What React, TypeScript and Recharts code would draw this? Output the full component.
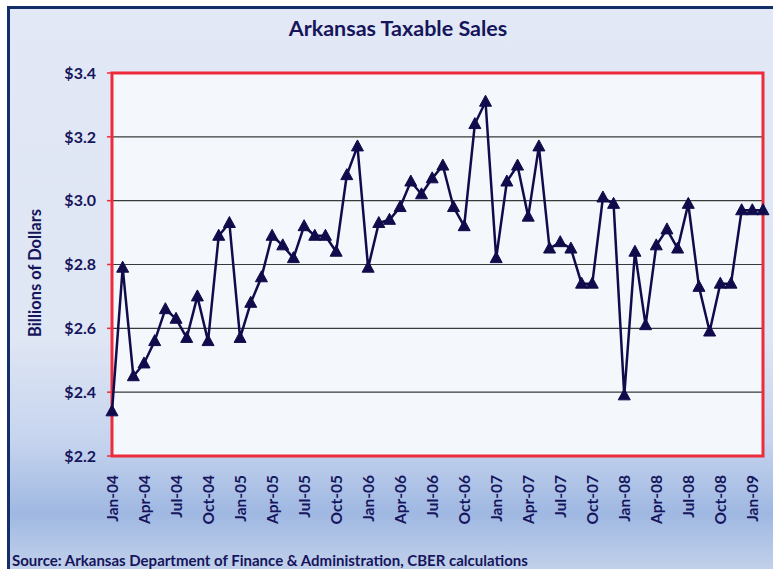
import { LineChart, Line, XAxis, YAxis, CartesianGrid, ReferenceArea } from "recharts";

const months = [
  "Jan-04", "Feb-04", "Mar-04", "Apr-04", "May-04", "Jun-04", "Jul-04", "Aug-04", "Sep-04", "Oct-04", "Nov-04", "Dec-04",
  "Jan-05", "Feb-05", "Mar-05", "Apr-05", "May-05", "Jun-05", "Jul-05", "Aug-05", "Sep-05", "Oct-05", "Nov-05", "Dec-05",
  "Jan-06", "Feb-06", "Mar-06", "Apr-06", "May-06", "Jun-06", "Jul-06", "Aug-06", "Sep-06", "Oct-06", "Nov-06", "Dec-06",
  "Jan-07", "Feb-07", "Mar-07", "Apr-07", "May-07", "Jun-07", "Jul-07", "Aug-07", "Sep-07", "Oct-07", "Nov-07", "Dec-07",
  "Jan-08", "Feb-08", "Mar-08", "Apr-08", "May-08", "Jun-08", "Jul-08", "Aug-08", "Sep-08", "Oct-08", "Nov-08", "Dec-08",
  "Jan-09", "Feb-09",
];

// billions of dollars
const sales = [
  2.34, 2.79, 2.45, 2.49, 2.56, 2.66, 2.63, 2.57, 2.70, 2.56, 2.89, 2.93,
  2.57, 2.68, 2.76, 2.89, 2.86, 2.82, 2.92, 2.89, 2.89, 2.84, 3.08, 3.17,
  2.79, 2.93, 2.94, 2.98, 3.06, 3.02, 3.07, 3.11, 2.98, 2.92, 3.24, 3.31,
  2.82, 3.06, 3.11, 2.95, 3.17, 2.85, 2.87, 2.85, 2.74, 2.74, 3.01, 2.99,
  2.39, 2.84, 2.61, 2.86, 2.91, 2.85, 2.99, 2.73, 2.59, 2.74, 2.74, 2.97,
  2.97, 2.97,
];

const yTicks = [2.2, 2.4, 2.6, 2.8, 3.0, 3.2, 3.4];

const data = months.map((m, i) => ({ month: m, value: sales[i] }));

const NAVY = "#16155c";
const LINE = "#100c4c";
const RED = "#ee2b3a";
const FONT = "Lato, 'Open Sans', sans-serif";

function Triangle(props: any) {
  const { cx, cy, index } = props;
  if (cx == null || cy == null) return <g key={index} />;
  return (
    <path
      key={index}
      d={`M${cx},${cy - 6.5} L${cx + 6},${cy + 4.5} L${cx - 6},${cy + 4.5} Z`}
      fill={LINE}
      stroke={LINE}
      strokeWidth={1}
    />
  );
}

function MonthTick(props: any) {
  const { x, y, payload } = props;
  return (
    <text
      x={x}
      y={y + 19}
      transform={`rotate(-90, ${x}, ${y + 19})`}
      textAnchor="end"
      dy="0.36em"
      fill={NAVY}
      fontSize={15.5}
      fontWeight={700}
      fontFamily={FONT}
    >
      {payload.value}
    </text>
  );
}

export default function App() {
  return (
    <div style={{ position: "absolute", left: 0, top: 0, width: 773, height: 569, overflow: "hidden", background: "#fff" }}>
      <div
        style={{
          position: "absolute",
          left: 7,
          top: 6,
          width: 800,
          height: 600,
          border: "3px solid #142d6b",
          background:
            "linear-gradient(to bottom, #e2e8f5 0%, #dfe6f4 55%, #c6d4ee 72%, #9fb8e2 84%, #bccde9 92%, #d9e2f2 100%)",
        }}
      />
      <div
        style={{
          position: "absolute",
          left: 0,
          width: 796,
          top: 15,
          textAlign: "center",
          fontFamily: FONT,
          fontWeight: 700,
          fontSize: 21.5,
          color: NAVY,
        }}
      >
        Arkansas Taxable Sales
      </div>
      <div
        style={{
          position: "absolute",
          left: 35,
          top: 273,
          transform: "translate(-50%, -50%) rotate(-90deg)",
          whiteSpace: "nowrap",
          fontFamily: FONT,
          fontWeight: 700,
          fontSize: 16.5,
          color: NAVY,
        }}
      >
        Billions of Dollars
      </div>
      <div
        style={{
          position: "absolute",
          left: 12,
          top: 551,
          whiteSpace: "nowrap",
          fontFamily: FONT,
          fontWeight: 700,
          fontSize: 15,
          color: NAVY,
        }}
      >
        Source: Arkansas Department of Finance &amp; Administration, CBER calculations
      </div>
      <div style={{ position: "absolute", left: 0, top: 0 }}>
        <LineChart width={773} height={569} data={data} margin={{ top: 73, right: 10, bottom: 0, left: 0 }}>
          <CartesianGrid vertical={false} stroke="#3a3a3a" strokeWidth={1.2} fill="#f4f8fc" fillOpacity={1} />
          <XAxis
            dataKey="month"
            interval={2}
            height={113}
            axisLine={false}
            tickLine={false}
            tickSize={0}
            tickMargin={0}
            tick={<MonthTick />}
          />
          <YAxis
            width={112}
            domain={[2.2, 3.4]}
            ticks={yTicks}
            axisLine={false}
            tickLine={{ stroke: RED, strokeWidth: 1.5 }}
            tickSize={5}
            tickMargin={11}
            tickFormatter={(v: number) => `$${v.toFixed(1)}`}
            tick={{ fill: NAVY, fontSize: 16, fontWeight: 700, fontFamily: FONT }}
          />
          <ReferenceArea
            x1="Jan-04"
            x2="Feb-09"
            y1={2.2}
            y2={3.4}
            fill="none"
            stroke={RED}
            strokeWidth={3}
          />
          <Line
            type="linear"
            dataKey="value"
            stroke={LINE}
            strokeWidth={2.5}
            dot={Triangle}
            isAnimationActive={false}
          />
        </LineChart>
      </div>
    </div>
  );
}
